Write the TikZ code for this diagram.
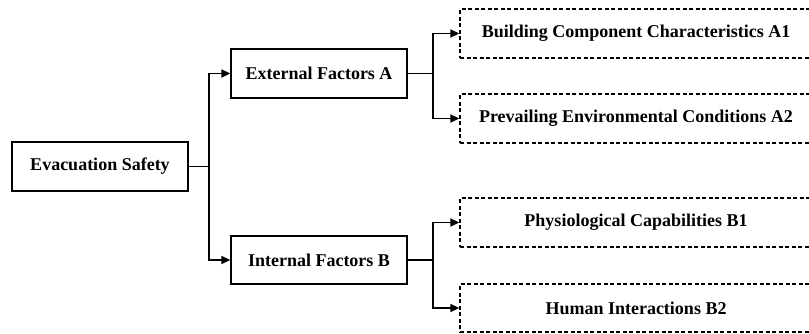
\documentclass[tikz,border=0pt]{standalone}
\usepackage{fontspec}
\setmainfont{Liberation Serif}
\usetikzlibrary{arrows.meta}
\begin{document}
\begin{tikzpicture}[x=1pt,y=-1pt,
  box/.style={draw, line width=1.3pt, minimum height=49pt, inner sep=0pt,
    font=\fontsize{18}{20}\selectfont\bfseries},
  mainbox/.style={box, line width=2.6pt, minimum width=176pt},
  midbox/.style={box, minimum width=176pt},
  leafbox/.style={box, dashed, dash pattern=on 4pt off 2.5pt, minimum width=352pt},
  conn/.style={line width=1.6pt},
  arr/.style={conn, -{Triangle[length=9pt,width=8pt]}}]
\useasboundingbox (0,0) rectangle (809,333);
\begin{scope}
\clip (0,0) rectangle (809,333);
\node[mainbox] (evac) at (100,166.5) {Evacuation Safety};
\node[midbox] (extA) at (319,73.5) {External Factors A};
\node[midbox, minimum height=48pt] (intB) at (319,260) {Internal Factors B};
\node[leafbox] (a1) at (636,33.5) {Building Component Characteristics A1};
\node[leafbox] (a2) at (636,118.5) {Prevailing Environmental Conditions A2};
\node[leafbox] (b1) at (636,222.5) {Physiological Capabilities B1};
\node[leafbox, minimum height=48pt] (b2) at (636,308) {Human Interactions B2};
\coordinate (j1) at (209,166.5);
\coordinate (j2) at (433,73.5);
\coordinate (j3) at (433,260);
\draw[conn] (evac.east) -- (j1);
\draw[arr] (j1) |- (extA.west);
\draw[arr] (j1) |- (intB.west);
\draw[conn] (extA.east) -- (j2);
\draw[arr] (j2) |- (a1.west);
\draw[arr] (j2) |- (a2.west);
\draw[conn] (intB.east) -- (j3);
\draw[arr] (j3) |- (b1.west);
\draw[arr] (j3) |- (b2.west);
\end{scope}
\end{tikzpicture}
\end{document}
